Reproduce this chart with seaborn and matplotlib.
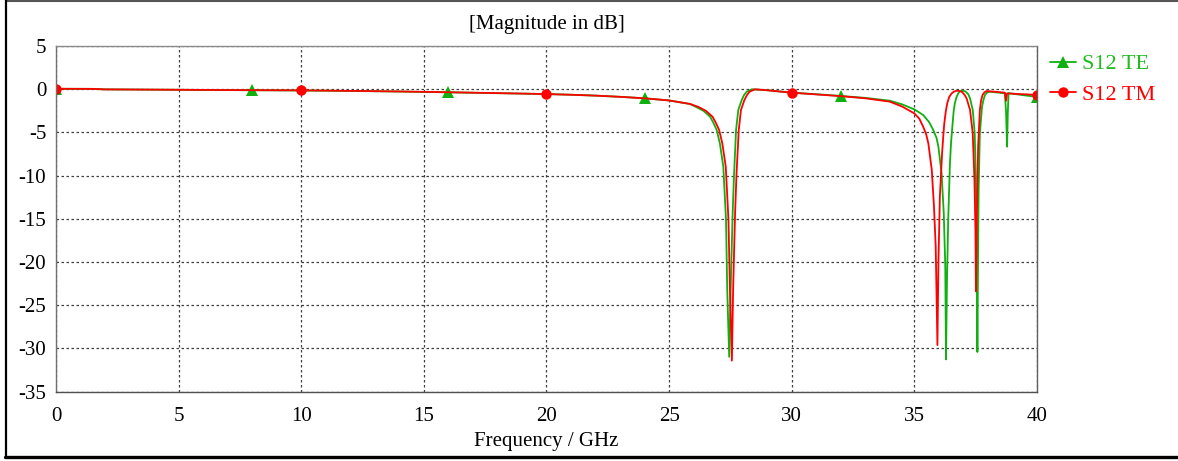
import numpy as np
import pandas as pd
import matplotlib
matplotlib.use("Agg")
import matplotlib.pyplot as plt
from matplotlib.lines import Line2D
import seaborn as sns

# Transmission S12 for TE polarisation (frequency in GHz, magnitude in dB)
te_freq = [0, 1.5, 2, 4, 6, 8, 10, 12, 14, 16, 18, 20, 21, 22, 23, 24, 25, 25.85,
           26.1, 26.4, 26.67, 26.8, 26.94, 27.07, 27.21, 27.32, 27.37, 27.45, 27.51,
           27.59, 27.65, 27.73, 27.82, 27.96, 28.05, 28.16, 28.37, 28.6, 29.0, 30,
           31, 32, 33, 34, 34.5, 35, 35.36, 35.6, 35.77, 35.9, 35.98, 36.11, 36.2,
           36.26, 36.29, 36.33, 36.38, 36.45, 36.5, 36.56, 36.6, 36.65, 36.72,
           36.79, 36.86, 36.93, 37.02, 37.1, 37.2, 37.27, 37.38, 37.46, 37.51,
           37.54, 37.57, 37.6, 37.62, 37.67, 37.76, 37.82, 37.88, 37.96, 38.05,
           38.4, 38.69, 38.74, 38.78, 38.81, 38.84, 39.2, 39.6, 40]
te_db = [0.05, 0.04, -0.02, -0.05, -0.08, -0.12, -0.15, -0.2, -0.27, -0.36, -0.46,
         -0.56, -0.64, -0.74, -0.88, -1.05, -1.3, -1.71,
         -2.05, -2.5, -3.18, -3.85, -4.72, -6.27, -8.97, -15.1, -23.2, -30.96, -23.2,
         -14.4, -9.7, -4.72, -2.4, -1.25, -0.7, -0.29, -0.01, -0.05, -0.12, -0.4,
         -0.58, -0.78, -1.0, -1.33, -1.75, -2.33, -2.99, -3.8, -4.72, -5.6, -6.65,
         -9.74, -14.4,
         -20.5, -31.26, -22.1, -15.1, -8.58, -6.0, -3.95, -2.6, -1.63, -0.9,
         -0.48, -0.25, -0.17, -0.2, -0.29, -0.6, -1.06, -2.4, -5.1, -10.5,
         -18.2, -30.4, -18.2, -11.7, -5.1, -2.0, -1.2, -0.67, -0.4, -0.29,
         -0.38, -0.48, -2.75, -6.65, -2.75, -0.45, -0.6, -0.75, -0.87]

# Transmission S12 for TM polarisation
tm_freq = [0, 1.5, 2, 4, 6, 8, 10, 12, 14, 16, 18, 20, 21, 22, 23, 24, 25, 25.85,
           26.2, 26.5, 26.77, 26.9, 27.04, 27.17, 27.31, 27.42, 27.48, 27.56, 27.61,
           27.69, 27.75, 27.84, 27.93, 28.07, 28.17, 28.28, 28.5, 28.7, 29.0, 30,
           31, 32, 33, 34, 34.5, 35, 35.2, 35.36, 35.48, 35.57, 35.71, 35.8, 35.87,
           35.94, 35.98, 36.04, 36.13, 36.18, 36.22, 36.28, 36.34, 36.42, 36.52,
           36.62, 36.73, 36.83, 36.93, 37.05, 37.13, 37.27, 37.38, 37.45, 37.49,
           37.51, 37.55, 37.6, 37.67, 37.72, 37.78, 37.86, 37.95, 38.4, 38.69,
           38.74, 38.78, 39.2, 39.6, 40]
tm_db = [0.05, 0.04, -0.02, -0.05, -0.08, -0.11, -0.13, -0.19, -0.26, -0.35, -0.45,
         -0.56, -0.64, -0.74, -0.88, -1.05, -1.3, -1.7,
         -2.05, -2.5, -3.18, -3.85, -4.72, -6.27, -8.97, -15.1, -23.2, -31.4, -23.2,
         -14.4, -9.7, -4.72, -2.4, -1.25, -0.7, -0.29, -0.01, -0.05, -0.12, -0.4,
         -0.6, -0.8, -1.05, -1.44, -2.0, -2.8, -3.4, -4.34, -5.2, -6.27, -9.35,
         -13.6, -18.2,
         -29.6, -20.2, -12.4, -7.4, -5.4, -3.95, -2.6, -1.63, -0.9, -0.48,
         -0.28, -0.17, -0.2, -0.29, -0.65, -1.06, -2.4, -5.1, -10.5, -16.3,
         -23.4, -14.4, -6.65, -2.4, -1.3, -0.67, -0.35, -0.21, -0.32, -0.4,
         -1.33, -0.48, -0.55, -0.6, -0.67]

te_marker_freq = [0, 8, 16, 24, 32, 40]
tm_marker_freq = [0, 10, 20, 30, 40]

x_ticks = [0, 5, 10, 15, 20, 25, 30, 35, 40]
y_ticks = [5, 0, -5, -10, -15, -20, -25, -30, -35]

TE_COLOR = "#10b010"
TM_COLOR = "#ff0000"

sns.set_style("white")
plt.rcParams["font.family"] = ["Liberation Serif", "DejaVu Serif"]
plt.rcParams["axes.unicode_minus"] = False
plt.rcParams["text.color"] = "black"
plt.rcParams["axes.labelcolor"] = "black"

te = pd.DataFrame({"freq": te_freq, "db": te_db})
tm = pd.DataFrame({"freq": tm_freq, "db": tm_db})

fig = plt.figure(figsize=(11.78, 4.61), dpi=100)
ax = fig.add_axes([0.0475, 0.1503, 0.8328, 0.7499])

te_marks = [te_freq.index(f) for f in te_marker_freq]
tm_marks = [tm_freq.index(f) for f in tm_marker_freq]

sns.lineplot(data=te, x="freq", y="db", ax=ax, color=TE_COLOR, lw=1.3,
             marker="^", markersize=8, markeredgewidth=0, markevery=te_marks,
             label="S12 TE", sort=False)
sns.lineplot(data=tm, x="freq", y="db", ax=ax, color=TM_COLOR, lw=1.3,
             marker="o", markersize=7.5, markeredgewidth=0, markevery=tm_marks,
             label="S12 TM", sort=False)

ax.set_xlim(0, 40)
ax.set_ylim(-35, 5)
ax.set_xticks(x_ticks)
ax.set_yticks(y_ticks)
ax.set_xticklabels([str(v) for v in x_ticks])
ax.set_yticklabels([str(v) for v in y_ticks])
ax.tick_params(axis="both", direction="out", length=5, width=1,
               color="#606060", labelsize=15, labelcolor="black")
ax.tick_params(axis="x", pad=6)
ax.tick_params(axis="y", pad=2)

ax.grid(True, color="#404040", linestyle=(0, (2, 2)), linewidth=0.9)
ax.set_axisbelow(True)
for side, col in [("top", "#8a8a8a"), ("left", "#707070"),
                  ("bottom", "#505050"), ("right", "#606060")]:
    ax.spines[side].set_visible(True)
    ax.spines[side].set_color(col)
    ax.spines[side].set_linewidth(1.0)

ax.set_xlabel("Frequency / GHz", fontsize=15, labelpad=4, color="black")
ax.set_ylabel("")
ax.set_title("[Magnitude in dB]", fontsize=15, pad=12, color="black")

leg = ax.legend(loc="upper left", bbox_to_anchor=(0.891, 0.883),
                bbox_transform=fig.transFigure, frameon=False, fontsize=16,
                handlelength=1.2, handletextpad=0.25, labelspacing=0.45,
                borderaxespad=0, borderpad=0)
for text, col in zip(leg.get_texts(), ["#22bb22", TM_COLOR]):
    text.set_color(col)

# outer frame of the figure
fig.add_artist(Line2D([0.005, 1.0], [0.9985, 0.9985], transform=fig.transFigure,
                      color="#555555", lw=1.5))
fig.add_artist(Line2D([0.0055, 0.0055], [0.0085, 1.0], transform=fig.transFigure,
                      color="black", lw=1.6))
fig.add_artist(Line2D([0.0045, 1.0], [0.0085, 0.0085], transform=fig.transFigure,
                      color="black", lw=2.4))

fig.savefig("out.png", dpi=100, facecolor="white")
